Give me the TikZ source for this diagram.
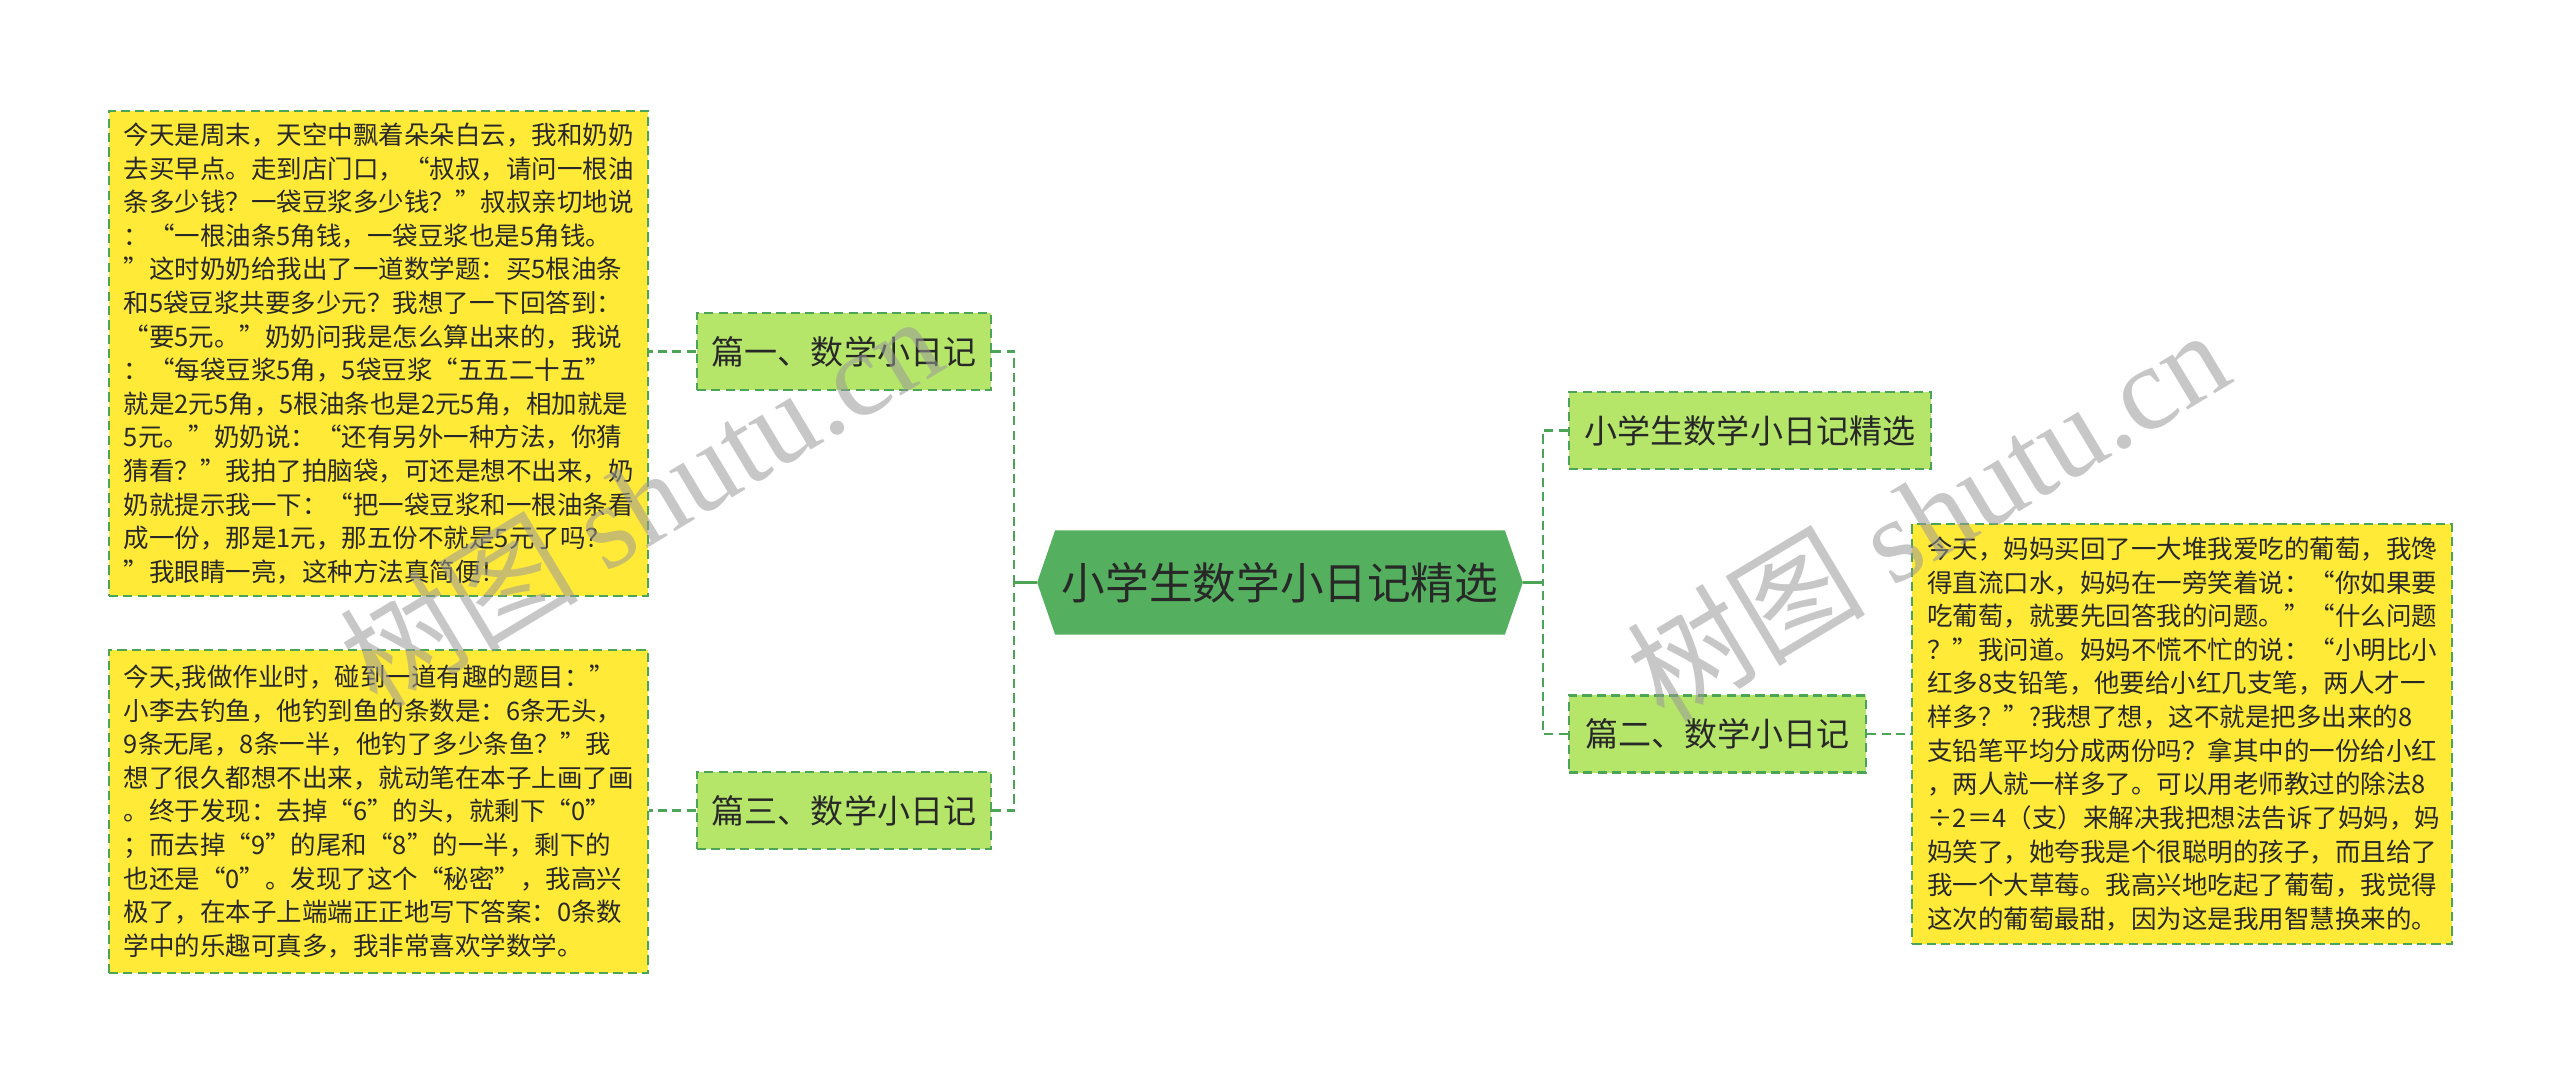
\documentclass[tikz,border=0pt]{standalone}
\usepackage{fontspec}
\setmainfont{Noto Sans CJK SC}
\newfontfamily\wmlatin{Liberation Serif}
\usetikzlibrary{calc}
\definecolor{rootg}{RGB}{84,176,94}
\definecolor{lvlg}{RGB}{181,230,106}
\definecolor{lineg}{RGB}{76,164,86}
\definecolor{boxy}{RGB}{255,234,56}
\definecolor{txt}{RGB}{40,40,40}
\tikzset{
  dashline/.style={draw=lineg, line width=0.6pt, dash pattern=on 2.6pt off 1.5pt},
  solidline/.style={draw=lineg, line width=0.85pt},
  lvlbox/.style={dashline, fill=lvlg, text=txt, minimum height=0.77cm, inner sep=0pt,
    font={\fontsize{9.4pt}{11pt}\selectfont}},
  textbox/.style={dashline, fill=boxy, text=txt, align=left, inner xsep=0.15cm, inner ysep=0pt,
    text width=5.09cm, minimum width=5.39cm,
    font={\fontsize{7.25pt}{9.56pt}\selectfont}},
  rootnode/.style={minimum width=4.84cm, minimum height=1.03cm, inner sep=0pt, text=txt,
    font={\fontsize{12.4pt}{14pt}\selectfont}},
  watermark/.style={text=black!40, opacity=0.55, rotate=31, font={\fontsize{34pt}{36pt}\selectfont}}
}
\begin{document}
\begin{tikzpicture}[x=0.01cm, y=-0.01cm]
\useasboundingbox[fill=white] (0,0) rectangle (2560,1083);

% root
\node[rootnode] (root) at (1280,582.5) {};
\fill[rootg] (root.west) -- ($(root.north west)+(18,0)$) -- ($(root.north east)+(-18,0)$)
  -- (root.east) -- ($(root.south east)+(-18,0)$) -- ($(root.south west)+(18,0)$) -- cycle;
\node[rootnode] (roottext) at (root.center) {小学生数学小日记精选};

% level 1
\node[lvlbox, minimum width=2.94cm] (n1) at (844,351.5) {篇一、数学小日记};
\node[lvlbox, minimum width=2.94cm] (n3) at (844,810.5) {篇三、数学小日记};
\node[lvlbox, minimum width=3.62cm] (r1) at (1750,430.5) {小学生数学小日记精选};
\node[lvlbox, minimum width=2.97cm] (r2) at (1717.5,734) {篇二、数学小日记};

% text boxes
\node[textbox, minimum height=4.85cm] (t1) at (378.5,353.5) {%
今天是周末，天空中飘着朵朵白云，我和奶奶\\
去买早点。走到店门口，“叔叔，请问一根油\\
条多少钱？一袋豆浆多少钱？”叔叔亲切地说\\
：“一根油条5角钱，一袋豆浆也是5角钱。\\
”这时奶奶给我出了一道数学题：买5根油条\\
和5袋豆浆共要多少元？我想了一下回答到：\\
“要5元。”奶奶问我是怎么算出来的，我说\\
：“每袋豆浆5角，5袋豆浆“五五二十五”\\
就是2元5角，5根油条也是2元5角，相加就是\\
5元。”奶奶说：“还有另外一种方法，你猜\\
猜看？”我拍了拍脑袋，可还是想不出来，奶\\
奶就提示我一下：“把一袋豆浆和一根油条看\\
成一份，那是1元，那五份不就是5元了吗？\\
”我眼睛一亮，这种方法真简便！};

\node[textbox, minimum height=3.23cm] (t3) at (378.5,811.5) {%
今天,我做作业时，碰到一道有趣的题目：”\\
小李去钓鱼，他钓到鱼的条数是：6条无头，\\
9条无尾，8条一半，他钓了多少条鱼？”我\\
想了很久都想不出来，就动笔在本子上画了画\\
。终于发现：去掉“6”的头，就剩下“0”\\
；而去掉“9”的尾和“8”的一半，剩下的\\
也还是“0”。发现了这个“秘密”，我高兴\\
极了，在本子上端端正正地写下答案：0条数\\
学中的乐趣可真多，我非常喜欢学数学。};

\node[textbox, minimum height=4.20cm] (t2) at (2182,734) {%
今天，妈妈买回了一大堆我爱吃的葡萄，我馋\\
得直流口水，妈妈在一旁笑着说：“你如果要\\
吃葡萄，就要先回答我的问题。”“什么问题\\
？”我问道。妈妈不慌不忙的说：“小明比小\\
红多8支铅笔，他要给小红几支笔，两人才一\\
样多？”?我想了想，这不就是把多出来的8\\
支铅笔平均分成两份吗？拿其中的一份给小红\\
，两人就一样多了。可以用老师教过的除法8\\
÷2＝4（支）来解决我把想法告诉了妈妈，妈\\
妈笑了，她夸我是个很聪明的孩子，而且给了\\
我一个大草莓。我高兴地吃起了葡萄，我觉得\\
这次的葡萄最甜，因为这是我用智慧换来的。};

% junctions
\coordinate (jl) at (1014,582.5);
\coordinate (jr) at (1543,582.5);

% connectors
\draw[solidline] (root.west) -- (jl);
\draw[solidline] (root.east) -- (jr);
\draw[dashline] (n1.east) -| (jl);
\draw[dashline] (n3.east) -| (jl);
\draw[dashline] (r1.west) -| (jr);
\draw[dashline] (r2.west) -| (jr);
\draw[dashline] (n1.west) -- (n1.west -| t1.east);
\draw[dashline] (n3.west) -- (n3.west -| t3.east);
\draw[dashline] (r2.east) -- (r2.east -| t2.west);

% watermarks
\node[watermark] (wm1) at (640,500) {树图 {\wmlatin shutu.cn}};
\node[watermark] (wm2) at (1927,514) {树图 {\wmlatin shutu.cn}};
\end{tikzpicture}
\end{document}
